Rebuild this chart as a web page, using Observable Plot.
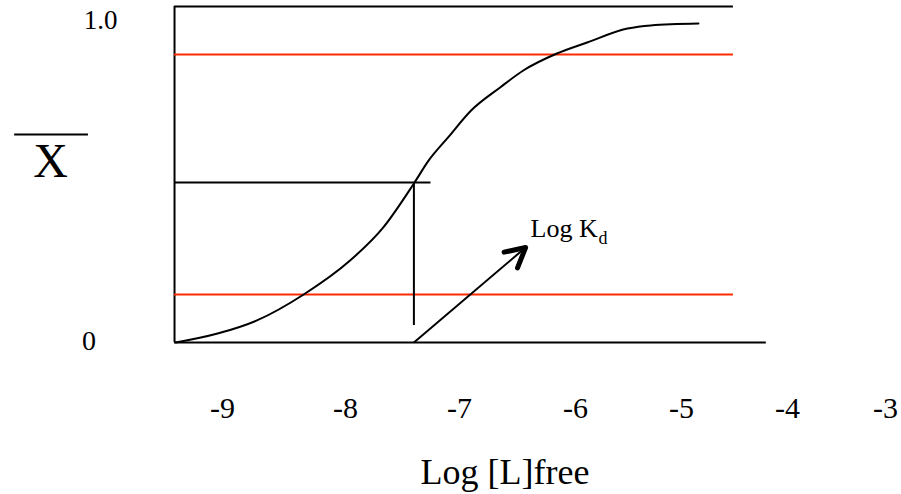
<!DOCTYPE html>
<html><head><meta charset="utf-8">
<script src="https://cdn.jsdelivr.net/npm/d3@7"></script>
<script src="https://cdn.jsdelivr.net/npm/@observablehq/plot@0.6"></script>
<style>
html,body{margin:0;padding:0;background:#fff;}
#chart svg, #chart svg text {font-family: "Liberation Serif", "Times New Roman", serif !important;}
</style>
</head><body><div id="chart"></div>
<script>
// ---- data ----
const xTickValues = [-9, -8, -7, -6, -5, -4, -3];
const xTickLabels = ["-9", "-8", "-7", "-6", "-5", "-4", "-3"];
const yTickValues = [0, 1];
const yTickLabels = ["0", "1.0"];
const curveLogL = [-9.38, -9.04, -8.72, -8.34, -7.96, -7.67, -7.40, -7.27, -7.10, -6.90, -6.65, -6.45, -6.16, -5.89, -5.51, -5.29, -4.84];
const curveFraction = [0, 0.028, 0.069, 0.15, 0.256, 0.359, 0.497, 0.569, 0.641, 0.725, 0.797, 0.85, 0.903, 0.9375, 0.981, 0.991, 0.997];
const redLevels = [0.9, 0.15];
const logKd = -7.40;
const halfSaturation = 0.5;
const frameTop = 1.05;
const frameLeft = -9.39;
const frameRight = -4.51;
const baselineRight = -4.2;
const halfLineRight = -7.25;
const dropBottom = 0.053;
const arrowTipX = -6.43;
const arrowTipY = 0.297;
const xTitle = "Log [L]free";
const yTitle = "X";
const kdText = "Log K";
const kdSub = "d";

// ---- scales ----
const xRange = [222, 345, 459, 575, 681, 787, 885];
const yRange = [342, 22];
const sx = d3.scaleLinear().domain(xTickValues).range(xRange);
const sy = d3.scaleLinear().domain([0, 1]).range(yRange);
const curve = curveLogL.map((x, i) => ({x, y: curveFraction[i]}));
const tickLabel = new Map(xTickValues.map((v, i) => [v, xTickLabels[i]]));

// arrow head orientation in screen space (clockwise from up)
const pdx = sx(arrowTipX) - sx(logKd);
const pdy = sy(arrowTipY) - sy(0);
const headRotate = Math.atan2(pdx, -pdy) * 180 / Math.PI;
const half = 28 * Math.PI / 180, arm = 22;
const chevron = {draw(ctx) {
  ctx.moveTo(-Math.sin(half) * arm, Math.cos(half) * arm);
  ctx.lineTo(0, 0);
  ctx.lineTo(Math.sin(half) * arm, Math.cos(half) * arm);
}};

const red = "#ff2a00";
const font = "'Liberation Serif', 'Times New Roman', serif";
const T = {fontFamily: font, fill: "#000", text: d => d};

const chart = Plot.plot({
  width: 901, height: 494,
  marginLeft: 0, marginRight: 0, marginTop: 0, marginBottom: 152,
  style: {fontFamily: font, background: "#fff", color: "#000"},
  x: {type: "linear", domain: xTickValues, range: xRange},
  y: {type: "linear", domain: [0, 1], range: yRange, axis: null},
  marks: [
    // frame lines
    Plot.ruleX([frameLeft], {y1: 0, y2: frameTop, stroke: "#000", strokeWidth: 2}),
    Plot.ruleY([frameTop], {x1: frameLeft, x2: frameRight, stroke: "#000", strokeWidth: 2}),
    Plot.ruleY([0], {x1: frameLeft, x2: baselineRight, stroke: "#000", strokeWidth: 2}),
    Plot.ruleY(redLevels, {x1: frameLeft, x2: frameRight, stroke: red, strokeWidth: 2}),
    // half-saturation guides
    Plot.ruleY([halfSaturation], {x1: frameLeft, x2: halfLineRight, stroke: "#000", strokeWidth: 2}),
    Plot.ruleX([logKd], {y1: dropBottom, y2: halfSaturation, stroke: "#000", strokeWidth: 2}),
    // binding curve
    Plot.line(curve, {x: "x", y: "y", curve: "monotone-x", stroke: "#000", strokeWidth: 2}),
    // arrow
    Plot.link([0], {x1: logKd, y1: 0, x2: arrowTipX, y2: arrowTipY, stroke: "#000", strokeWidth: 2}),
    Plot.vector([0], {x: arrowTipX, y: arrowTipY, rotate: headRotate, anchor: "start", length: 1,
      shape: chevron, fill: "none", stroke: "#000", strokeWidth: 5, strokeLinecap: "round", strokeLinejoin: "round"}),
    Plot.text([kdText], {...T, x: arrowTipX, y: arrowTipY, dx: 5, dy: -10, textAnchor: "start", lineAnchor: "bottom", fontSize: 26}),
    Plot.text([kdSub], {...T, x: arrowTipX, y: arrowTipY, dx: 73, dy: -3, textAnchor: "start", lineAnchor: "bottom", fontSize: 18}),
    // x axis tick labels
    Plot.axisX({ticks: xTickValues, tickFormat: d => tickLabel.get(d), tickSize: 0, tickPadding: 54, fontSize: 30, label: null, fill: "#000", fontFamily: font}),
    // y tick labels
    Plot.text([yTickLabels[1]], {...T, y: yTickValues[1], frameAnchor: "left", dx: 100, dy: 6, textAnchor: "middle", lineAnchor: "bottom", fontSize: 27}),
    Plot.text([yTickLabels[0]], {...T, y: yTickValues[0], frameAnchor: "left", dx: 88.5, dy: 7, textAnchor: "middle", lineAnchor: "bottom", fontSize: 28}),
    // y title: X with overline
    Plot.text([yTitle], {...T, frameAnchor: "top-left", dx: 50, dy: 176, textAnchor: "middle", lineAnchor: "bottom", fontSize: 48}),
    Plot.ruleY([0.65], {x1: -10.69, x2: -10.09, stroke: "#000", strokeWidth: 2}),
    // x title
    Plot.text([xTitle], {...T, frameAnchor: "bottom", dx: 54, dy: 141, textAnchor: "middle", lineAnchor: "bottom", fontSize: 36})
  ]
});
document.getElementById("chart").appendChild(chart);
</script>
</body></html>
